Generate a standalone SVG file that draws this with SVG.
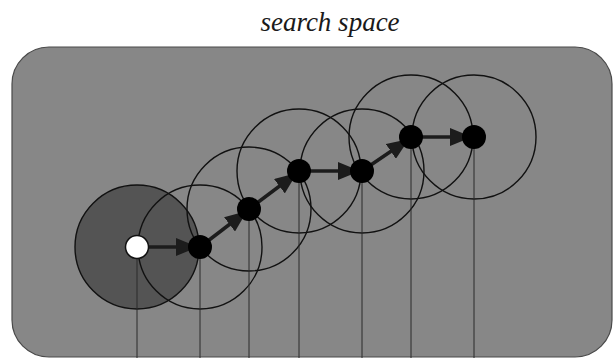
<svg xmlns="http://www.w3.org/2000/svg" width="614" height="358" viewBox="0 0 614 358">
  <defs>
    <style>
      .title { font-family: "Liberation Serif", "Times New Roman", serif; font-style: italic; font-size: 27px; fill: #1a1a1a; }
      .space { fill: #878787; stroke: #4a4a4a; stroke-width: 1.2; }
      .hood { fill: none; stroke: #111; stroke-width: 1.4; }
      .hood-start { fill: #545454; stroke: #111; stroke-width: 1.4; }
      .guide { stroke: #2a2a2a; stroke-width: 1; fill: none; }
      .step { stroke: #1c1c1c; stroke-width: 3.5; fill: none; marker-end: url(#arr); }
      .dot { fill: #000; }
      .start { fill: #fff; stroke: #111; stroke-width: 1.5; }
    </style>
    <marker id="arr" viewBox="0 0 22 18" refX="22" refY="9" markerWidth="22" markerHeight="18" markerUnits="userSpaceOnUse" orient="auto">
      <path d="M0,0 L22,9 L0,18 Z" fill="#1c1c1c"/>
    </marker>
  </defs>

  <text class="title" x="330" y="31" text-anchor="middle">search space</text>

  <rect class="space" x="12" y="47" width="600" height="310" rx="37" ry="37"/>

  <g id="neighbourhoods">
    <circle class="hood-start" cx="137" cy="247" r="62"/>
    <circle class="hood" cx="200" cy="247" r="62"/>
    <circle class="hood" cx="249" cy="209" r="62"/>
    <circle class="hood" cx="299" cy="171" r="62"/>
    <circle class="hood" cx="362" cy="171" r="62"/>
    <circle class="hood" cx="411" cy="137" r="62"/>
    <circle class="hood" cx="474" cy="137" r="62"/>
  </g>

  <g id="connectors">
    <line class="guide" x1="137" y1="247" x2="137" y2="358"/>
    <line class="guide" x1="200" y1="247" x2="200" y2="358"/>
    <line class="guide" x1="249" y1="209" x2="249" y2="358"/>
    <line class="guide" x1="299" y1="171" x2="299" y2="358"/>
    <line class="guide" x1="362" y1="171" x2="362" y2="358"/>
    <line class="guide" x1="411" y1="137" x2="411" y2="358"/>
    <line class="guide" x1="474" y1="137" x2="474" y2="358"/>
    <line class="step" x1="148" y1="247" x2="198" y2="247"/>
    <line class="step" x1="200" y1="247" x2="247" y2="211"/>
    <line class="step" x1="249" y1="209" x2="297" y2="173"/>
    <line class="step" x1="299" y1="171" x2="360" y2="171"/>
    <line class="step" x1="362" y1="171" x2="409" y2="139"/>
    <line class="step" x1="411" y1="137" x2="472" y2="137"/>
  </g>

  <g id="node-start"><circle class="start" cx="137" cy="247" r="11.5"/></g>
  <g id="node-1"><circle class="dot" cx="200" cy="247" r="12"/></g>
  <g id="node-2"><circle class="dot" cx="249" cy="209" r="12"/></g>
  <g id="node-3"><circle class="dot" cx="299" cy="171" r="12"/></g>
  <g id="node-4"><circle class="dot" cx="362" cy="171" r="12"/></g>
  <g id="node-5"><circle class="dot" cx="411" cy="137" r="12"/></g>
  <g id="node-6"><circle class="dot" cx="474" cy="137" r="12"/></g>
</svg>
